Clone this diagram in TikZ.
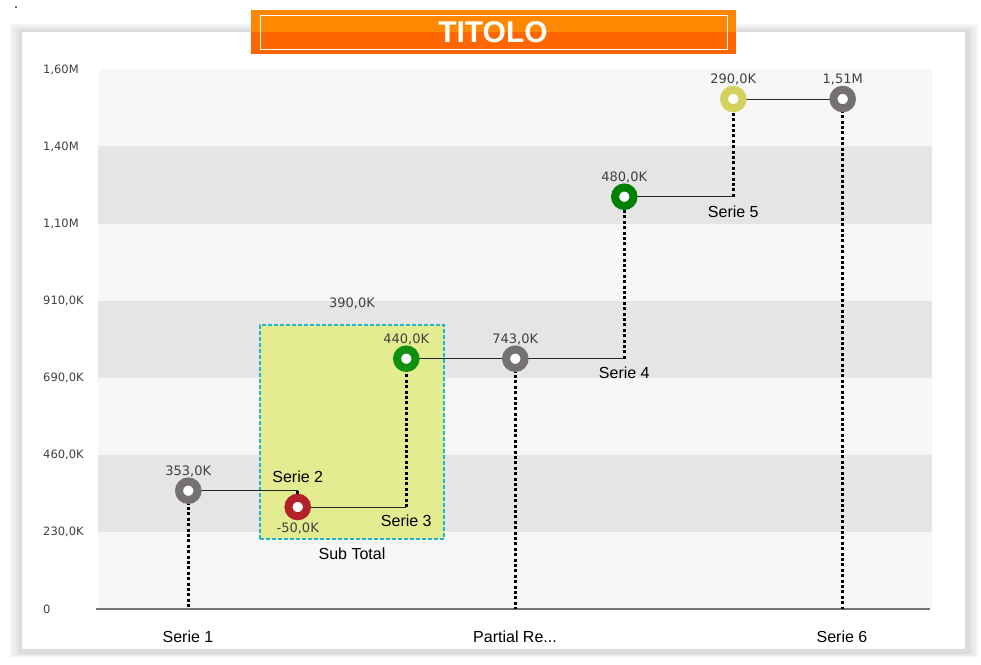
\documentclass[tikz,border=0pt]{standalone}
\usepackage{fontspec}
\setmainfont{Liberation Sans}
\newfontfamily\valfont{DejaVu Sans}
\usetikzlibrary{positioning}

\definecolor{bandlight}{HTML}{F7F7F7}
\definecolor{banddark}{HTML}{E5E5E5}
\definecolor{totgray}{HTML}{767171}
\definecolor{negred}{HTML}{B2202A}
\definecolor{posgreen}{HTML}{109010}
\definecolor{posgreenb}{HTML}{008000}
\definecolor{posyellow}{HTML}{D2D25C}
\definecolor{labgray}{HTML}{404040}
\definecolor{subfill}{HTML}{E3EC90}
\definecolor{subcyan}{HTML}{1FB4CF}
\definecolor{orangetop}{HTML}{FF8800}
\definecolor{orangebot}{HTML}{FF6600}
\definecolor{dotblue}{HTML}{5070A0}

\tikzset{
  marker/.style={circle, draw=#1, line width=8pt, fill=white, minimum size=18.5pt, inner sep=0pt, outer sep=0pt},
  value/.style={font=\valfont\fontsize{13}{15}\selectfont, text=labgray, inner sep=0pt},
  serie/.style={font=\fontsize{16}{18}\selectfont, inner sep=0pt},
  ylab/.style={font=\valfont\fontsize{11.5}{13}\selectfont, text=labgray, anchor=west, inner sep=0pt},
  stepline/.style={draw=black!85, line width=1pt},
  drop/.style={draw=black, line width=2.6pt, dash pattern=on 3pt off 2.4pt},
}

\begin{document}
\begin{tikzpicture}[x=1pt, y=-1pt]
  \useasboundingbox (0,0) rectangle (981,664);

  % frame with shadow
  \fill[black!4] (10,24) rectangle (978,657);
  \fill[black!7] (13,26) rectangle (976,656);
  \fill[black!10] (16,28) rectangle (973,655);
  \fill[black!14] (19,30) rectangle (970,654);
  \fill[white] (22,32) rectangle (965,649);
  \fill[dotblue] (15,6) rectangle (17,8);

  % bands
  \foreach \ya/\yb/\c in {69/146/bandlight, 146/224/banddark, 224/301/bandlight,
      301/378/banddark, 378/455/bandlight, 455/532/banddark, 532/608/bandlight}
    \fill[\c] (98,\ya) rectangle (932,\yb);

  \foreach \y/\t in {70/{1,60M}, 147/{1,40M}, 224/{1,10M}, 301/{910,0K},
      378/{690,0K}, 455/{460,0K}, 532/{230,0K}, 609/{0}}
    \node[ylab] at (43,\y) {\t};

  \coordinate (axl) at (96,608.5);
  \coordinate (axr) at (930,608.5);
  \draw[totgray, line width=2pt] (axl) -- (axr);

  % sub total box
  \node[draw=subcyan, fill=subfill, line width=1.5pt, dash pattern=on 4pt off 2pt,
    minimum width=184pt, minimum height=214pt, inner sep=0pt, outer sep=0pt] (sub) at (352,432) {};
  \node[serie, below=9pt of sub] (sublab) {Sub Total};
  \node[value, above=16pt of sub] (subval) {390,0K};

  % points
  \coordinate (p1) at (188.3,490.7);
  \coordinate (p2) at (297.7,507);
  \coordinate (p3) at (406.3,358.7);
  \coordinate (p4) at (515.3,358.7);
  \coordinate (p5) at (624.3,196.7);
  \coordinate (p6) at (733.3,99);
  \coordinate (p7) at (842.7,99);

  \coordinate (c12) at (p2 |- p1);
  \coordinate (c23) at (p3 |- p2);
  \coordinate (c45) at (p5 |- p4);
  \coordinate (c56) at (p6 |- p5);

  \draw[stepline] (p1) -- (c12);
  \draw[drop] (c12) -- (p2);
  \draw[stepline] (p2) -- (c23);
  \draw[drop] (c23) -- (p3);
  \draw[stepline] (p3) -- (p4);
  \draw[stepline] (p4) -- (c45);
  \draw[drop] (c45) -- (p5);
  \draw[stepline] (p5) -- (c56);
  \draw[drop] (c56) -- (p6);
  \draw[stepline] (p6) -- (p7);

  \draw[drop] (p1) -- (p1 |- axl);
  \draw[drop] (p4) -- (p4 |- axl);
  \draw[drop] (p7) -- (p7 |- axl);

  \node[marker=totgray] (s1) at (p1) {};
  \node[marker=negred] (s2) at (p2) {};
  \node[marker=posgreen] (s3) at (p3) {};
  \node[marker=totgray] (s4) at (p4) {};
  \node[marker=posgreenb] (s5) at (p5) {};
  \node[marker=posyellow] (s6) at (p6) {};
  \node[marker=totgray] (s7) at (p7) {};

  % values
  \node[value, above=4.5pt of s1] {353,0K};
  \node[value, below=6pt of s2] {-50,0K};
  \node[value, above=4.5pt of s3] {440,0K};
  \node[value, above=4.5pt of s4] {743,0K};
  \node[value, above=4.5pt of s5] {480,0K};
  \node[value, above=4.5pt of s6] {290,0K};
  \node[value, above=4.5pt of s7] {1,51M};

  % series labels
  \node[serie, above=8pt of c12] {Serie 2};
  \node[serie, below=8pt of c23] {Serie 3};
  \node[serie, below=8pt of c45] {Serie 4};
  \node[serie, below=9pt of c56] {Serie 5};

  \node[serie] (x1) at (188,637) {Serie 1};
  \node[serie] (x4) at (515,637) {Partial Re...};
  \node[serie] (x7) at (842,637) {Serie 6};

  % title
  \fill[orangetop] (251,10) rectangle (736,32);
  \fill[orangebot] (251,32) rectangle (736,54);
  \draw[white, line width=1pt] (260.5,15.5) rectangle (727.5,49);
  \node[font=\bfseries\fontsize{30}{32}\selectfont, text=white, inner sep=0pt] (title) at (493,32.5) {TITOLO};
\end{tikzpicture}
\end{document}
